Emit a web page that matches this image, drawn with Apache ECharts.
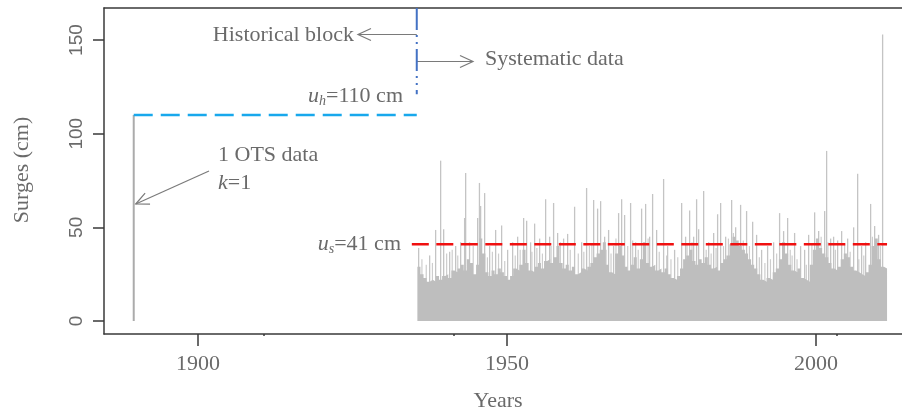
<!DOCTYPE html>
<html><head><meta charset="utf-8">
<script src="https://cdn.jsdelivr.net/npm/echarts@6/dist/echarts.min.js"></script>
<style>html,body{margin:0;padding:0;background:#fff}#c{width:902px;height:411px}</style>
</head><body><div id="c"></div>
<script>
// ---- data ----
const xTicks = [1900, 1950, 2000];
const xMinorTicks = [1910.6, 1941.4, 2003.3];
const yTicks = [0, 50, 100, 150];
const baseStart = 1935.5, baseStep = 0.5; // half-year resolution of the systematic record body
const baseValues = [29,25,23,21,22,21,24,22,24,25,23,27,26,28,30,27,33,31,25,30,44,36,26,24,27,25,28,26,24,22,
24,28,27,30,38,31,27,26,29,31,28,32,33,31,34,40,31,28,30,27,29,25,26,28,27,29,31,34,36,38,
42,30,26,25,36,40,35,29,27,30,34,28,33,42,31,29,30,27,28,26,28,25,23,22,24,28,33,35,38,32,
30,33,31,34,30,28,29,27,31,33,35,41,45,43,40,38,36,33,30,28,25,22,21,23,22,26,28,33,42,36,
30,27,26,28,23,22,21,30,38,44,39,36,34,31,28,27,29,33,36,34,29,27,26,25,24,26,30,40,44,33,29,28];
const spikeYears = [1935.76,1937.54,1938.51,1939.32,1939.81,1940.78,1941.75,1942.56,1943.2,1943.37,1944.0,1945.31,1945.6,1945.79,1946.44,1947.25,1948.22,1949.19,1950.16,1950.97,
1951.78,1952.75,1953.24,1953.88,1954.53,1955.34,1956.31,1956.96,1957.6,1958.25,1959.22,1959.87,1961.0,1962.14,1962.94,1964.08,1964.72,1965.21,1965.86,1966.5,
1967.31,1968.12,1968.61,1969.09,1970.06,1970.87,1971.84,1972.49,1973.14,1973.62,1974.27,1975.4,1976.05,1977.18,1978.32,1978.96,1979.61,1980.26,1980.74,1981.07,
1981.88,1982.69,1983.5,1984.14,1984.63,1985.44,1986.41,1987.06,1987.86,1988.83,1989.81,1990.45,1991.26,1992.23,1993.2,1994.17,1994.82,1995.47,1996.6,1997.57,
1998.22,1998.87,1999.84,2000.49,2001.46,2001.78,2002.43,2002.91,2003.56,2004.21,2005.18,2006.15,2006.8,2007.44,2008.09,2008.9,2009.55,2010.19,2010.84];
const spikeValues = [39,35,48.6,85.6,49,37,40,42,55,79,42,55,73.7,61.4,68.3,40,48.6,51,38,42,
45,55,53.5,42,52,44,65,45,63,47,44,46.5,61,42,71,64.6,60,64,45,48.6,
40,57.6,65,56.6,63,42,60,62.5,45,67.8,48.6,75.8,40,38,63,45,59,45,65,49,
69.4,42,47,57,63,45,64.6,50,62,58.7,53,46,38,40,42,57.6,48,55,47,40,
38,46,58,48,58.7,90.8,44,45,43,48,44,50,78.6,40,42,62.5,50.7,46,153];
const minorYears = [1936.3,1937.0,1938.0,1940.3,1941.2,1942.1,1944.6,1946.9,1947.7,1948.7,1949.7,1951.4,1952.2,1954.1,1954.9,1955.8,1957.2,1958.7,1960.3,1961.6,
1962.5,1963.4,1963.8,1966.1,1966.9,1967.7,1969.6,1970.4,1971.3,1972.9,1974.7,1975.9,1976.6,1977.7,1979.2,1980.0,1982.3,1983.1,1983.9,1985.1,
1985.9,1986.7,1988.3,1989.3,1990.9,1991.8,1992.7,1993.7,1995.9,1996.2,1997.0,1998.5,1999.4,2000.9,2002.0,2003.2,2004.7,2005.6,2007.0,2007.8,2009.2,2010.5];
const minorValues = [33,30,31,36,38,35,40,34,37,36,32,35,38,37,39,36,40,42,38,36,
37,40,41,38,36,44,40,43,38,44,37,35,33,34,41,42,38,36,39,40,
44,47,43,40,34,31,33,36,38,35,33,30,41,45,42,38,41,37,33,35,45,40];
const otsYear = 1889.6, otsValue = 110;   // 1 OTS data, k=1
const uh = 110, us = 41;                   // thresholds (cm)
const histEnd = 1935.4;                    // end of historical block
const sysEnd = 2011.5;
const blueTop = 167.1, blueBottom = 121;

// ---- build ----
const baseData = baseValues.map((v, i) => [baseStart + i * baseStep, v]);
baseData.push([baseStart + baseValues.length * baseStep, baseValues[baseValues.length - 1]]);
const spikeData = spikeYears.map((y, i) => [y, spikeValues[i]]);
const minorData = minorYears.map((y, i) => [y, minorValues[i]]);

const serif = '"Liberation Serif","Times New Roman",serif';
const sans = '"Liberation Sans",Arial,sans-serif';
const txt = '#6a6a6a';
const fmt = v => String(Math.round(v));

const chart = echarts.init(document.getElementById('c'), null, {renderer: 'canvas'});
const xMin = 1884.79, xMax = 2013.92, yMin = -6.94, yMax = 167.1;
chart.setOption({
  animation: false,
  grid: {left: 104, top: 8, width: 798, height: 326, containLabel: false},
  xAxis: [
    {type: 'value', min: xMin, max: xMax, position: 'bottom',
     axisLine: {show: true, onZero: false, lineStyle: {color: '#3a3a3a', width: 1.5}},
     axisTick: {show: true, length: 12, customValues: xTicks, lineStyle: {color: '#3a3a3a', width: 1.5}},
     axisLabel: {show: true, customValues: xTicks, formatter: fmt, margin: 19, fontFamily: serif, fontSize: 22, color: txt},
     splitLine: {show: false}},
    {type: 'value', min: xMin, max: xMax, position: 'top',
     axisLine: {show: true, onZero: false, lineStyle: {color: '#3a3a3a', width: 1.5}},
     axisTick: {show: false}, axisLabel: {show: false}, splitLine: {show: false}},
    {type: 'value', min: xMin, max: xMax, position: 'bottom',
     axisLine: {show: false, onZero: false},
     axisTick: {show: true, length: 2, customValues: xMinorTicks, lineStyle: {color: '#3a3a3a', width: 1.5}},
     axisLabel: {show: false}, splitLine: {show: false}}
  ],
  yAxis: {type: 'value', min: yMin, max: yMax,
    axisLine: {show: true, onZero: false, lineStyle: {color: '#3a3a3a', width: 1.5}},
    axisTick: {show: true, length: 11, customValues: yTicks, lineStyle: {color: '#3a3a3a', width: 1.5}},
    axisLabel: {show: true, customValues: yTicks, formatter: fmt, rotate: 90, margin: 18, fontFamily: sans, fontSize: 19, color: txt},
    splitLine: {show: false}},
  series: [
    {type: 'bar', name: 'minor', data: minorData, barWidth: 1.2, barGap: '-100%', itemStyle: {color: '#cdcdcd'}, z: 1},
    {type: 'bar', name: 'spikes', data: spikeData, barWidth: 1.3, barGap: '-100%', itemStyle: {color: '#c4c4c4'}, z: 1},
    {type: 'line', name: 'body', step: 'end', data: baseData, symbol: 'none',
     lineStyle: {width: 0}, areaStyle: {color: '#bebebe', opacity: 1}, z: 2},
    {type: 'bar', name: 'ots', data: [[otsYear, otsValue]], barWidth: 2, barGap: '-100%', itemStyle: {color: '#ababab'}, z: 2},
    {type: 'line', name: 'uh', data: [[otsYear, uh], [histEnd, uh]], symbol: 'none',
     lineStyle: {color: '#18a8ec', width: 2.5, type: [19, 8]}, z: 3},
    {type: 'line', name: 'us', data: [[1934.6, us], [sysEnd, us]], symbol: 'none',
     lineStyle: {color: '#f01010', width: 2.5, type: [17, 7.5]}, z: 3},
    {type: 'line', name: 'block', data: [[histEnd, blueTop], [histEnd, blueBottom]], symbol: 'none',
     lineStyle: {color: '#4472c4', width: 2, type: [22, 5, 2, 5, 2, 5]}, z: 3}
  ]
});

function P(x, y) { return chart.convertToPixel({xAxisIndex: 0, yAxisIndex: 0}, [x, y]); }
function arrow(x1, y1, x2, y2) { // line from (x1,y1) to tip (x2,y2) with open head
  const dx = x1 - x2, dy = y1 - y2, L = Math.hypot(dx, dy), ux = dx / L, uy = dy / L;
  const h = 13, w = 6;
  const px = -uy, py = ux;
  return [
    {type: 'line', shape: {x1, y1, x2, y2}, style: {stroke: '#7a7a7a', lineWidth: 1.2}},
    {type: 'polyline', shape: {points: [[x2 + ux * h + px * w, y2 + uy * h + py * w], [x2, y2], [x2 + ux * h - px * w, y2 + uy * h - py * w]]},
     style: {stroke: '#7a7a7a', lineWidth: 1.2, fill: null}}
  ];
}
const bx = P(histEnd, 0)[0];
const ots = P(otsYear, 80);
const it = {fontFamily: serif, fontSize: 22, fontStyle: 'italic', fill: txt};
const sb = {fontFamily: serif, fontSize: 14, fontStyle: 'italic', fill: txt, padding: [10, 0, 0, 0]};
const nm = {fontFamily: serif, fontSize: 22, fill: txt};
const g = [];
g.push(...arrow(bx, 34.5, 358, 34.5));
g.push(...arrow(bx, 61.5, 473, 61.5));
g.push(...arrow(209, 171, ots[0] + 2, 204));
g.push({type: 'text', style: {text: 'Historical block', x: 354, y: 35, align: 'right', verticalAlign: 'middle', font: '22px ' + serif, fill: txt}});
g.push({type: 'text', style: {text: 'Systematic data', x: 485, y: 59, align: 'left', verticalAlign: 'middle', font: '22px ' + serif, fill: txt}});
g.push({type: 'text', style: {text: '1 OTS data', x: 218, y: 155, align: 'left', verticalAlign: 'middle', font: '22px ' + serif, fill: txt}});
g.push({type: 'text', style: {text: '{i|k}{n|=1}', x: 218, y: 183, align: 'left', verticalAlign: 'middle', fill: txt, rich: {i: it, n: nm}}});
g.push({type: 'text', style: {text: '{i|u}{s|h}{n|=110 cm}', x: 403, y: 96, align: 'right', verticalAlign: 'middle', fill: txt, rich: {i: it, s: sb, n: nm}}});
g.push({type: 'text', style: {text: '{i|u}{s|s}{n|=41 cm}', x: 401, y: 244, align: 'right', verticalAlign: 'middle', fill: txt, rich: {i: it, s: sb, n: nm}}});
g.push({type: 'text', style: {text: 'Years', x: 498, y: 401, align: 'center', verticalAlign: 'middle', font: '22px ' + serif, fill: txt}});
g.push({type: 'text', x: 22, y: 170, rotation: Math.PI / 2, style: {text: 'Surges (cm)', x: 0, y: 0, align: 'center', verticalAlign: 'middle', font: '22px ' + serif, fill: txt}});
chart.setOption({graphic: {elements: g}});
</script></body></html>
